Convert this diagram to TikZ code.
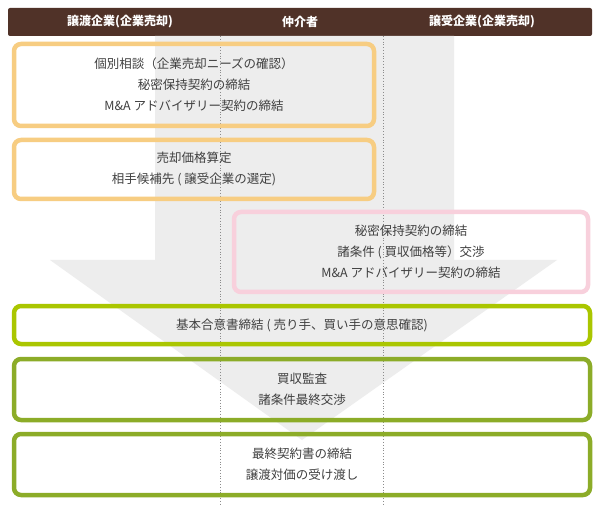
\documentclass[tikz,border=0pt]{standalone}
\usepackage{fontspec}
\setmainfont{Noto Sans CJK JP}
\begin{document}
\begin{tikzpicture}[x=1pt,y=-1pt,
  box/.style={rounded corners=7pt,line width=4.5pt},
  txt/.style={font=\fontsize{12.5}{21}\selectfont,text=black!75,align=center},
  hd/.style={font=\fontsize{12}{14}\selectfont\bfseries,text=white}]
\useasboundingbox (0,0) rectangle (600,505);
\fill[white] (0,0) rectangle (600,505);
\fill[rounded corners=2pt,fill={rgb,255:red,80;green,50;blue,40}] (8,8) rectangle (592,36);
\node[hd] (h1) at (120,22) {譲渡企業(企業売却)};
\node[hd] (h2) at (300,22) {仲介者};
\node[hd] (h3) at (482,22) {譲受企業(企業売却)};
\fill[black!7] (155,36) -- (454,36) -- (454,260) -- (557,260) -- (302,440) -- (50,260) -- (155,260) -- cycle;
\coordinate (d1t) at (220,36); \coordinate (d1b) at (220,505);
\coordinate (d2t) at (383,36); \coordinate (d2b) at (383,505);
\draw[black!45,dotted,line width=0.8pt] (d1t) -- (d1b);
\draw[black!45,dotted,line width=0.8pt] (d2t) -- (d2b);
\definecolor{org}{RGB}{247,205,130}
\definecolor{pnk}{RGB}{248,208,220}
\definecolor{lgr}{RGB}{170,198,0}
\definecolor{ogr}{RGB}{140,172,40}
\draw[box,draw=org] (14,44) rectangle (374,126);
\draw[box,draw=org] (14,140) rectangle (374,199);
\draw[box,draw=pnk] (234,212) rectangle (588,292);
\draw[box,draw=lgr] (14,306) rectangle (590,344);
\draw[box,draw=ogr] (14,359) rectangle (590,420);
\draw[box,draw=ogr] (14,434) rectangle (590,495);
\node[txt] (t1) at (194,85) {個別相談（企業売却ニーズの確認）\\秘密保持契約の締結\\M\&A アドバイザリー契約の締結};
\node[txt] (t2) at (194,169) {売却価格算定\\相手候補先 ( 譲受企業の選定)};
\node[txt] (t3) at (411,252) {秘密保持契約の締結\\諸条件 ( 買収価格等）交渉\\M\&A アドバイザリー契約の締結};
\node[txt] (t4) at (302,325) {基本合意書締結 ( 売り手、買い手の意思確認)};
\node[txt] (t5) at (302,389) {買収監査\\諸条件最終交渉};
\node[txt] (t6) at (302,464) {最終契約書の締結\\譲渡対価の受け渡し};
\end{tikzpicture}
\end{document}
